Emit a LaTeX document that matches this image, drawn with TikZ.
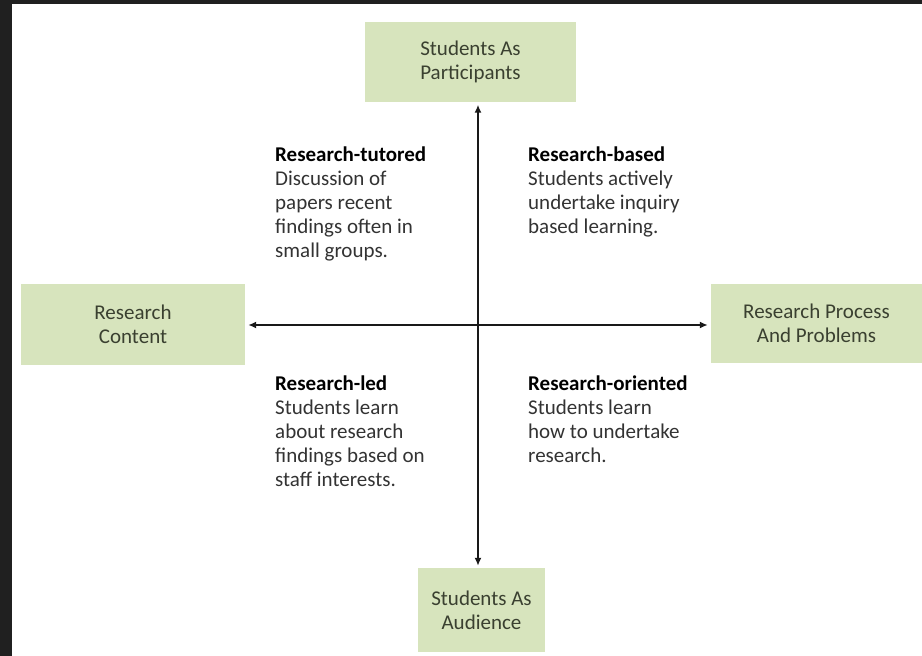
\documentclass[tikz,border=0pt]{standalone}
\usepackage{fontspec}
\setmainfont{Carlito}
\usepackage{tikz}
\usetikzlibrary{arrows.meta}
\definecolor{boxgreen}{HTML}{D7E4BD}
\definecolor{framegray}{HTML}{202020}
\definecolor{boxtext}{HTML}{3A4030}
\definecolor{bodytext}{HTML}{333333}

\begin{document}
\begin{tikzpicture}[x=1pt,y=-1pt,
   box/.style={fill=boxgreen,text=boxtext,align=center,font=\fontsize{21}{24}\selectfont},
   quad/.style={anchor=north west,inner sep=0pt,align=left,text=bodytext,font=\fontsize{21}{24}\selectfont},
   axis/.style={{Latex[length=8pt,width=7pt]}-{Latex[length=8pt,width=7pt]},line width=1.6pt,black!90}]
   \useasboundingbox (0,0) rectangle (922,656);
   \fill[framegray] (0,0) rectangle (922,656);
   \fill[white] (12,4) rectangle (922,656);
   \coordinate (c) at (478,325);
   \node[box,minimum width=211pt,minimum height=80pt] (sap) at (470.5,61.5) {Students As\\Participants};
   \node[box,minimum width=127pt,minimum height=84pt] (saa) at (481.5,610) {Students As\\Audience};
   \node[box,minimum width=224pt,minimum height=81pt] (rc) at (133,324.5) {Research\\Content};
   \node[box,minimum width=211pt,minimum height=79pt] (rpp) at (816.5,323.5) {Research Process\\And Problems};
   \draw[axis,shorten <=3pt,shorten >=2pt] (c |- sap.south) -- (c |- saa.north);
   \draw[axis,shorten <=3pt,shorten >=3pt] (c -| rc.east) -- (c -| rpp.west);
   \node[quad] (rtut) at (275,147) {\textbf{\color{black}Research-tutored}\\Discussion of\\papers recent\\findings often in\\small groups.};
   \node[quad] (rbas) at (528,147) {\textbf{\color{black}Research-based}\\Students actively\\undertake inquiry\\based learning.};
   \node[quad] (rled) at (275,376) {\textbf{\color{black}Research-led}\\Students learn\\about research\\findings based on\\staff interests.};
   \node[quad] (rori) at (528,376) {\textbf{\color{black}Research-oriented}\\Students learn\\how to undertake\\research.};
\end{tikzpicture}
\end{document}
